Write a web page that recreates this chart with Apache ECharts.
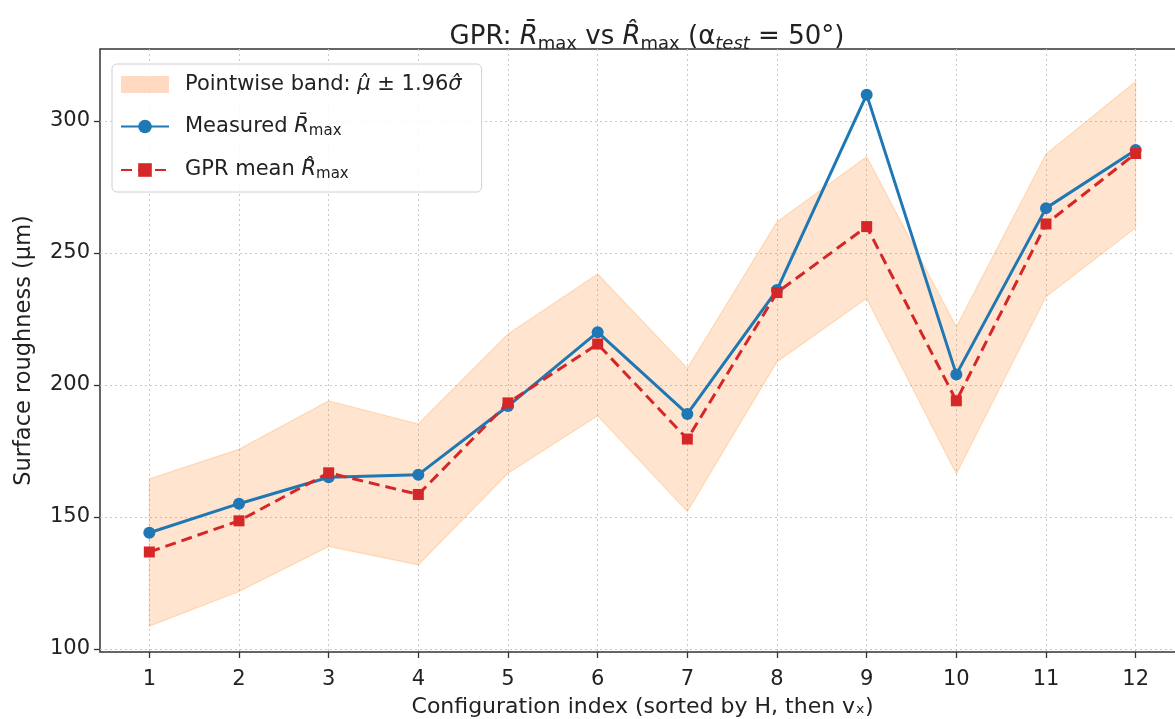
<!DOCTYPE html>
<html>
<head>
<meta charset="utf-8">
<script src="https://cdn.jsdelivr.net/npm/echarts@6/dist/echarts.min.js"></script>
<style>html,body{margin:0;padding:0;background:#fff}#c{width:1175px;height:719px}</style>
</head>
<body>
<div id="c"></div>
<script>
// ---- data ----
const configIndex = [1, 2, 3, 4, 5, 6, 7, 8, 9, 10, 11, 12];
const measured = [144, 155, 165, 166, 192, 220, 189, 236, 310, 204, 267, 289];
const gprMean = [136.7, 148.5, 166.7, 158.5, 193.2, 215.5, 179.5, 235, 260, 194, 261, 287.7];
const bandUpper = [164.4, 175.6, 194, 185.2, 219.3, 242, 206.3, 261.8, 286.5, 222, 287.5, 315];
const bandLower = [108.6, 121.7, 138.8, 131.8, 166.5, 188.3, 152, 208.8, 232.8, 166.3, 233.4, 259.6];
const xTicks = [1, 2, 3, 4, 5, 6, 7, 8, 9, 10, 11, 12];
const yTicks = [100, 150, 200, 250, 300];

const FONT = 'DejaVu Sans';
const bandName = 'band';
const measName = 'meas';
const gprName = 'gpr';

const chart = echarts.init(document.getElementById('c'), null, {renderer: 'canvas'});

const legendText = {
  band: '{t|Pointwise band: }{i|μ̂}{t| ± 1.96}{i|σ̂}',
  meas: '{t|Measured }{i|R̄}{s|max}',
  gpr: '{t|GPR mean }{i|R̂}{s|max}'
};

const option = {
  backgroundColor: '#ffffff',
  animation: false,
  title: {
    text: '{n|GPR: }{i|R̄}{s|max}{n| vs }{i|R̂}{s|max}{n| (α}{si|test}{n| = 50°)}',
    left: 642, top: 16, textAlign: 'center',
    textStyle: {
      fontWeight: 'normal',
      rich: {
        n: {fontFamily: FONT, fontSize: 26, fontWeight: 'normal', color: '#222', lineHeight: 32},
        i: {fontFamily: FONT, fontSize: 26, fontWeight: 'normal', color: '#222', fontStyle: 'italic', lineHeight: 32},
        s: {fontFamily: FONT, fontSize: 18, fontWeight: 'normal', color: '#222', lineHeight: 16, verticalAlign: 'bottom'},
        si: {fontFamily: FONT, fontSize: 18, fontWeight: 'normal', color: '#222', fontStyle: 'italic', lineHeight: 16, verticalAlign: 'bottom'}
      }
    }
  },
  legend: {
    left: 112, top: 64, orient: 'vertical',
    data: [
      {name: bandName, icon: 'rect'},
      {name: measName},
      {name: gprName}
    ],
    itemWidth: 48, itemHeight: 17, itemGap: 21,
    padding: [10, 20, 10, 8],
    borderColor: '#d0d0d0', borderWidth: 1, borderRadius: 5,
    backgroundColor: 'rgba(255,255,255,0.85)',
    formatter: function (n) { return legendText[n]; },
    textStyle: {
      padding: [0, 0, 0, 11],
      rich: {
        t: {fontFamily: FONT, fontSize: 21, color: '#222', lineHeight: 24},
        i: {fontFamily: FONT, fontSize: 21, color: '#222', fontStyle: 'italic', lineHeight: 24},
        s: {fontFamily: FONT, fontSize: 15, color: '#222', lineHeight: 12, verticalAlign: 'bottom'}
      }
    }
  },
  grid: {
    left: 100, width: 1085, top: 49, bottom: 67,
    outerBoundsMode: 'none', containLabel: false,
    show: true, borderColor: '#333', borderWidth: 1.5, backgroundColor: 'transparent'
  },
  xAxis: {
    type: 'value', min: 0.45, max: 12.55,
    name: 'Configuration index (sorted by H, then vₓ)',
    nameLocation: 'middle', nameGap: 44,
    nameTextStyle: {fontFamily: FONT, fontSize: 22, color: '#222'},
    axisLine: {show: false},
    axisTick: {show: true, length: 6, customValues: xTicks, lineStyle: {color: '#333', width: 1.3}},
    axisLabel: {customValues: xTicks, fontFamily: FONT, fontSize: 21, color: '#222', margin: 17},
    splitLine: {show: true, lineStyle: {color: '#c8c8c8', type: [2, 3], width: 1}}
  },
  yAxis: {
    type: 'value', min: 98.8, max: 327.3,
    name: 'Surface roughness (μm)',
    nameLocation: 'middle', nameGap: 64, nameRotate: 90,
    nameTextStyle: {fontFamily: FONT, fontSize: 22.5, color: '#222'},
    axisLine: {show: false},
    axisTick: {show: true, length: 6, customValues: yTicks, lineStyle: {color: '#333', width: 1.3}},
    axisLabel: {customValues: yTicks, fontFamily: FONT, fontSize: 21, color: '#222', margin: 10},
    splitLine: {show: true, lineStyle: {color: '#c8c8c8', type: [2, 3], width: 1}}
  },
  series: [
    {
      type: 'custom', name: bandName, z: 1,
      itemStyle: {color: 'rgba(255,160,100,0.4)'},
      data: configIndex.map((x, i) => [x, bandLower[i], bandUpper[i]]),
      encode: {x: 0, y: [1, 2]},
      renderItem: function (params, api) {
        if (params.dataIndex !== 0) return null;
        const pts = [];
        for (let i = 0; i < configIndex.length; i++) pts.push(api.coord([configIndex[i], bandUpper[i]]));
        for (let i = configIndex.length - 1; i >= 0; i--) pts.push(api.coord([configIndex[i], bandLower[i]]));
        return {
          type: 'polygon', shape: {points: pts},
          style: {fill: 'rgba(255,127,14,0.2)', stroke: 'rgba(255,127,14,0.22)', lineWidth: 1.2}
        };
      }
    },
    {
      type: 'line', name: measName, z: 3,
      data: configIndex.map((x, i) => [x, measured[i]]),
      symbol: 'circle', symbolSize: 12,
      lineStyle: {color: '#1f77b4', width: 3},
      itemStyle: {color: '#1f77b4'}
    },
    {
      type: 'line', name: gprName, z: 4,
      data: configIndex.map((x, i) => [x, gprMean[i]]),
      symbol: 'rect', symbolSize: 11,
      lineStyle: {color: '#d62728', width: 3, type: [11, 6]},
      itemStyle: {color: '#d62728'}
    }
  ]
};
chart.setOption(option);
</script>
</body>
</html>
